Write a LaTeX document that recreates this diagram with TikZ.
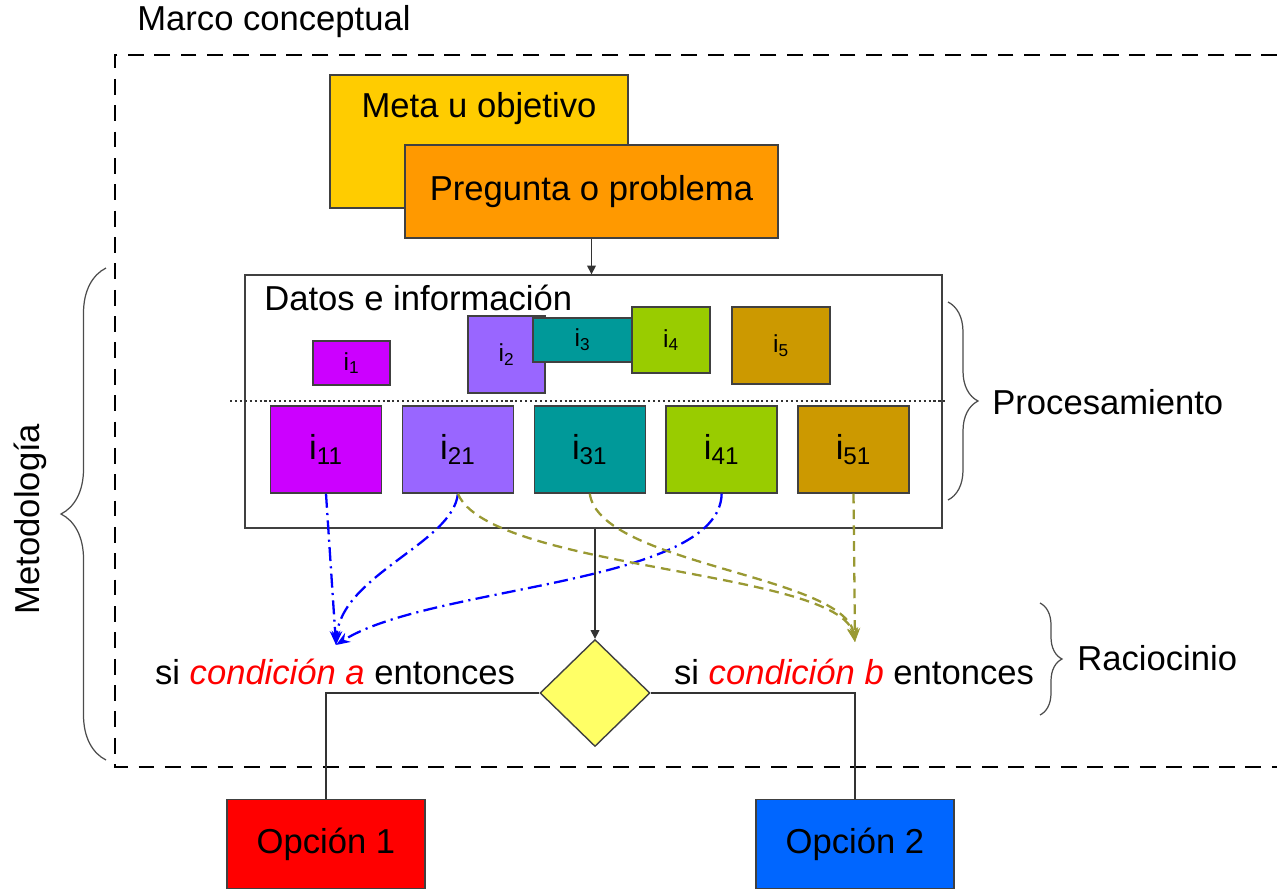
\documentclass[tikz,border=0pt]{standalone}
\usepackage{fontspec}
\setmainfont{Liberation Sans}
\usepackage{tikz}
\usetikzlibrary{positioning, shapes.geometric, arrows.meta, decorations.pathreplacing}
\definecolor{cmeta}{HTML}{FFCC00}
\definecolor{cpreg}{HTML}{FF9900}
\definecolor{cuno}{HTML}{CC00FF}
\definecolor{cdos}{HTML}{9966FF}
\definecolor{ctres}{HTML}{009999}
\definecolor{ccuatro}{HTML}{99CC00}
\definecolor{ccinco}{HTML}{CC9900}
\definecolor{cdec}{HTML}{FFFF66}
\definecolor{copa}{HTML}{FF0000}
\definecolor{copb}{HTML}{0066FF}
\definecolor{cazul}{HTML}{0000FF}
\definecolor{coliva}{HTML}{999933}
\tikzset{main text/.style={inner sep=0pt, font=\fontsize{19.7}{23}\selectfont},
  main box/.style={main text, draw=black!75, line width=0.8pt},
  small box/.style={draw=black!75, line width=0.8pt, inner sep=0pt, font=\fontsize{14}{16}\selectfont},
  big box/.style={main box, minimum width=2.22cm, minimum height=1.74cm},
  flecha/.style={draw=black!80, line width=0.8pt, -{Triangle[length=5pt,width=5pt]}},
  azul/.style={draw=cazul, line width=1.3pt, dash pattern=on 8pt off 3pt on 1.2pt off 3pt, -{Stealth[length=8pt,width=6pt]}},
  oliva/.style={draw=coliva, line width=1.3pt, dash pattern=on 5.5pt off 3.5pt, -{Stealth[length=8pt,width=6pt]}},
  llave/.style={draw=black!70, line width=0.7pt, decorate}}

\begin{document}
\begin{tikzpicture}[x=0.02cm, y=-0.02cm]
            \useasboundingbox (0,0) rectangle (1277,890);
            \node[main text, anchor=west] (marco) at (137,22) {Marco conceptual};
            \draw[line width=1.5pt, dash pattern=on 9pt off 6pt] (1277,55) -| (115,767) -- (1277,767);

            \node[main box, fill=cmeta, minimum width=5.96cm, text height=0.84cm, text depth=1.82cm] (meta) at (479,141.5) {Meta u objetivo};
            \node[main box, fill=cpreg, minimum width=7.46cm, minimum height=1.86cm] (preg) at (591.5,191.5) {Pregunta o problema};

            \node[main box, minimum width=13.94cm, minimum height=5.06cm] (datos) at (593.5,401.5) {};
            \node[main text, anchor=west] (titdatos) at (264,298) {Datos e información};

            \node[small box, fill=cuno, minimum width=1.54cm, minimum height=0.88cm] (i1) at (351.5,363) {i\textsubscript{1}};
            \node[small box, fill=cdos, minimum width=1.54cm, minimum height=1.54cm] (i2) at (506.5,354.5) {i\textsubscript{2}};
            \node[small box, fill=ctres, minimum width=1.98cm, minimum height=0.88cm] (i3) at (582.5,340) {i\textsubscript{3}};
            \node[small box, fill=ccuatro, minimum width=1.56cm, minimum height=1.32cm] (i4) at (671,340) {i\textsubscript{4}};
            \node[small box, fill=ccinco, minimum width=1.96cm, minimum height=1.54cm] (i5) at (781,345.5) {i\textsubscript{5}};

            \draw[black!80, line width=1pt, dash pattern=on 1.2pt off 1.6pt] (230,401) -- (945,401);

            \node[big box, fill=cuno] (i11) at (326,449.5) {i\textsubscript{11}};
            \node[big box, fill=cdos] (i21) [right = 0.39cm of i11] {i\textsubscript{21}};
            \node[big box, fill=ctres] (i31) [right = 0.39cm of i21] {i\textsubscript{31}};
            \node[big box, fill=ccuatro] (i41) [right = 0.39cm of i31] {i\textsubscript{41}};
            \node[big box, fill=ccinco] (i51) [right = 0.39cm of i41] {i\textsubscript{51}};

            \node[main box, diamond, fill=cdec, minimum width=2.2cm, minimum height=2.14cm] (dec) at (595,693) {};
            \node[main text] (conda) at (335,672) {si \textcolor{copa}{\itshape condición a} entonces};
            \node[main text] (condb) at (854,672) {si \textcolor{copa}{\itshape condición b} entonces};
            \coordinate (ca) at (336,645);
            \coordinate (cb) at (855,642);

            \node[main box, fill=copa, minimum width=3.96cm, minimum height=1.78cm] (op1) at (326,844) {Opción 1};
            \node[main box, fill=copb, minimum width=3.96cm, minimum height=1.78cm] (op2) at (855,844) {Opción 2};

            % llaves
            \draw[llave, decoration={brace, amplitude=0.6cm}] (948,302) -- (948,500);
            \node[main text, anchor=west] (proc) at (992,402) {Procesamiento};
            \draw[llave, decoration={brace, amplitude=0.44cm}] (1040,603) -- (1040,715);
            \node[main text, anchor=west] (racio) at (1077,658) {Raciocinio};
            \draw[llave, decoration={brace, amplitude=0.9cm}] (106,760) -- (106,268);
            \node[main text, rotate=90] (metod) at (30,519) {Metodología};

            % conexiones
            \draw[flecha] (preg.south) -- (preg.south |- datos.north);
            \draw[flecha] (dec.north |- datos.south) -- (dec.north);
            \draw[draw=black!80, line width=0.8pt] (dec.west) -| (op1.north);
            \draw[draw=black!80, line width=0.8pt] (dec.east) -| (op2.north);

            \draw[azul] (i11.south) -- (ca);
            \draw[azul] (i21.south) .. controls (453,543) and (341,575) .. (ca);
            \draw[azul] (i41.south) .. controls (720,585) and (430,585) .. (ca);
            \draw[oliva] (i21.south) .. controls (490,570) and (840,570) .. (cb);
            \draw[oliva] (i31.south) .. controls (600,565) and (845,575) .. (cb);
            \draw[oliva] (i51.south) -- (cb);
        \end{tikzpicture}
\end{document}
